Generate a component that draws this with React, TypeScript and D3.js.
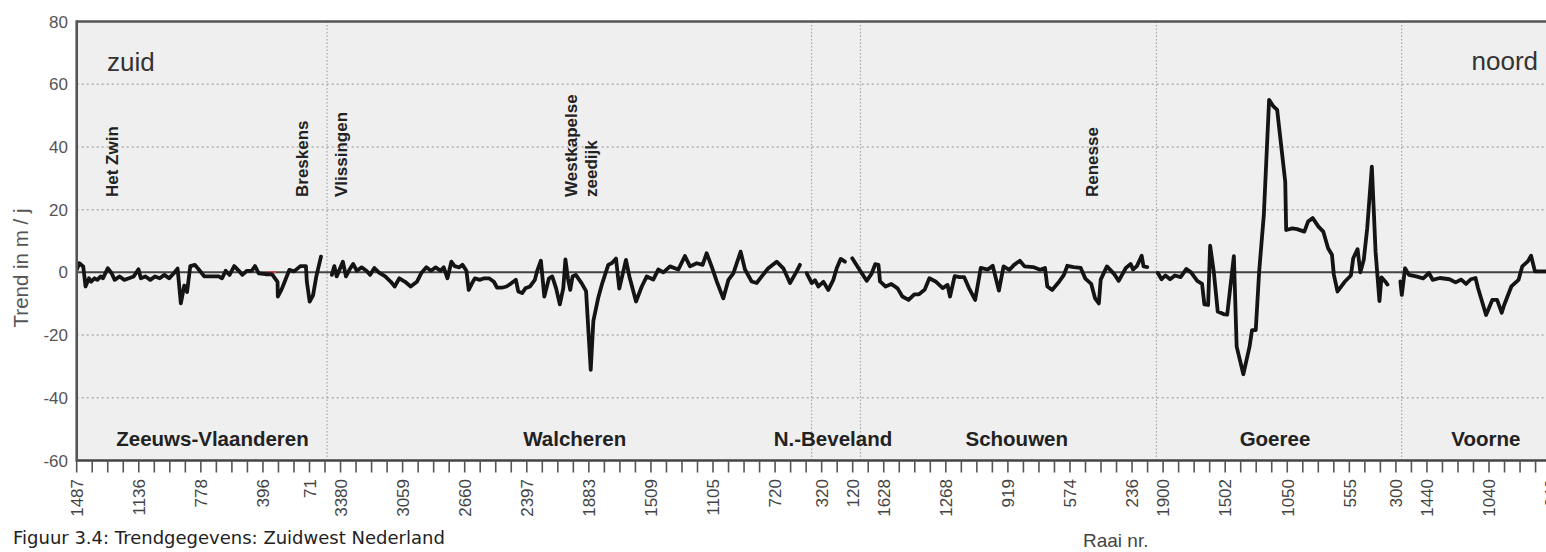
import React from 'react';
import * as d3 from 'd3';

// ---------- data ----------
const yTicks = [-60, -40, -20, 0, 20, 40, 60, 80];
const yGrid = [-40, -20, 20, 40, 60];
const tickCount = 96; // raai ticks 0..95
const raaiTickPos = [0, 4, 8, 12, 15, 17, 21, 25, 29, 33, 37, 41, 45, 48, 50, 52, 56, 60, 64, 68, 70, 74, 78, 82, 85, 87, 91, 95];
const raaiTickLabels = ['1487', '1136', '778', '396', '71', '3380', '3059', '2660', '2397', '1883', '1509', '1105', '720', '320', '120', '1628', '1268', '919', '574', '236', '1900', '1502', '1050', '555', '300', '1440', '1040', '640'];
const sectionBounds = [16.13, 47.35, 50.5, 69.57, 85.37];
const regionNames = ['Zeeuws-Vlaanderen', 'Walcheren', 'N.-Beveland', 'Schouwen', 'Goeree', 'Voorne'];
const regionCenters = [8.75, 32.09, 48.73, 60.57, 77.21, 90.8];
const placeNames = ['Het Zwin', 'Breskens', 'Vlissingen', 'Westkapelse', 'zeedijk', 'Renesse'];
const placePos = [2.66, 14.9, 17.42, 32.24, 33.53, 65.81];

// [raai position (tick units), trend m/j]
const zeeuwsVlaanderen: [number, number][] = [
  [0, 0.8], [0.17, 2.9], [0.42, 1.9], [0.57, -4.5], [0.79, -1.9], [0.93, -3], [1.15, -1.9], [1.33, -2.4],
  [1.55, -1.3], [1.69, -1.9], [2.0, 1.3], [2.24, -0.2], [2.45, -2.4], [2.76, -1.3], [3.07, -2.4], [3.37, -1.9],
  [3.67, -1.3], [3.98, 1.0], [4.13, -1.9], [4.43, -1.3], [4.74, -2.4], [5.04, -1.3], [5.35, -1.9], [5.65, -0.8],
  [5.95, -1.9], [6.26, -0.3], [6.5, 1.2], [6.71, -9.9], [6.93, -4.2], [7.11, -6.3], [7.32, 2], [7.62, 2.4],
  [7.93, 0.5], [8.23, -1.3], [8.54, -1.3], [8.84, -1.3], [9.15, -1.3], [9.36, -1.9], [9.6, 0.5], [9.85, -0.8],
  [10.15, 2], [10.45, 0.5], [10.67, -0.8], [10.97, 0.5], [11.28, 0.5], [11.49, 2], [11.73, -0.3], [12.18, -0.6],
  [12.58, -0.6], [12.94, -3], [12.96, -7.7], [13.19, -5.6], [13.4, -3], [13.7, 0.8], [14.01, 0.3], [14.41, 2],
  [14.77, 2], [14.83, -3], [15.01, -9.3], [15.23, -7.3], [15.44, -1.3], [15.74, 5],
];
const walcheren: [number, number][] = [
  [16.44, -0.8], [16.6, 2], [16.75, -1.3], [17.15, 3.4], [17.35, -1.3], [17.57, 0.8], [17.81, 2.7], [18.05, 0.5],
  [18.36, 1.6], [18.67, 0.5], [18.9, -0.8], [19.18, 1.4], [19.48, -0.1], [19.88, -1.3], [20.24, -3], [20.49, -4.5],
  [20.79, -1.9], [21.16, -3], [21.52, -4.5], [21.92, -3], [22.22, -0.1], [22.53, 1.6], [22.83, 0.5], [23.13, 1.6],
  [23.44, 0.5], [23.65, 1.6], [23.89, -1.9], [24.14, 3.4], [24.35, 2], [24.65, 1.6], [24.86, 2.4], [25.11, 0.5],
  [25.26, -5.6], [25.47, -3.5], [25.66, -1.9], [25.96, -2.4], [26.26, -1.9], [26.57, -1.9], [26.88, -3], [27.09, -4.9],
  [27.39, -4.9], [27.69, -4.5], [28.0, -3.5], [28.3, -2.4], [28.45, -6.1], [28.7, -6.6], [28.91, -5.1], [29.21, -4.5],
  [29.52, -2.4], [29.67, 0.5], [29.91, 3.7], [30.13, -7.7], [30.43, -1.9], [30.64, -1.3], [30.89, -5.1], [31.13, -10.2],
  [31.35, -5.1], [31.49, 4.1], [31.65, -1.9], [31.8, -5.6], [31.95, -1.3], [32.16, -0.8], [32.54, -3.5], [32.82, -6],
  [33.12, -31.1], [33.29, -15.5], [33.61, -8], [33.83, -4], [34.25, 2.4], [34.49, 3], [34.75, 4.4], [34.96, -5.2],
  [35.39, 4], [35.61, -1.3], [36.04, -9.3], [36.41, -4.5], [36.73, -1.3], [37.15, -2.3], [37.47, 0.9], [37.8, 0],
  [38.23, 1.9], [38.76, 0.9], [39.19, 5.2], [39.52, 1.9], [39.95, 2.9], [40.33, 2.4], [40.59, 6.1], [40.91, 1.9],
  [41.24, -2.9], [41.66, -8.3], [41.99, -2.4], [42.31, -0.3], [42.78, 6.6], [43.06, 0.9], [43.49, -2.9], [43.81, -3.4],
  [44.14, -1.3], [44.56, 1.3], [45.1, 3.4], [45.53, 1.3], [45.96, -3.4], [46.39, 0.3], [46.6, 2.4],
];
const nBeveland: [number, number][] = [
  [47.04, -0.3], [47.36, -3.4], [47.57, -2.5], [47.79, -4.5], [48.11, -3], [48.43, -5.6], [48.75, -2.4],
  [48.97, 1.3], [49.23, 4.3], [49.5, 3.4],
];
const schouwen: [number, number][] = [
  [49.97, 4.5], [50.44, 0.8], [50.9, -2.7], [51.21, -0.5], [51.45, 2.6], [51.66, 2.4], [51.76, -2.9], [52.12, -4.5],
  [52.49, -3.7], [52.89, -5.1], [53.2, -7.7], [53.6, -8.8], [53.97, -7], [54.27, -7], [54.64, -5.5], [54.94, -1.9],
  [55.34, -2.9], [55.8, -5], [56.11, -4], [56.27, -7.7], [56.57, -1.2], [56.88, -1.5], [57.18, -1.5], [57.49, -5],
  [57.89, -8.8], [58.25, 1.4], [58.71, 0.9], [59.02, 2.1], [59.42, -5.8], [59.72, 1.9], [60.09, 0.8], [60.4, 2.4],
  [60.77, 3.7], [61.07, 1.9], [61.62, 1.7], [62.08, 0.8], [62.39, 1.4], [62.54, -4.5], [62.85, -5.6], [63.31, -2.9],
  [63.61, -0.8], [63.83, 2.1], [64.23, 1.7], [64.69, 1.4], [64.99, -2], [65.37, -3.7], [65.61, -8.2], [65.86, -9.9],
  [65.98, -2.3], [66.38, 1.9], [66.84, -0.5], [67.14, -2.7], [67.6, 1.4], [67.91, 2.7], [68.06, 0.9], [68.31, 2],
  [68.62, 5.3], [68.74, 1.9], [68.98, 1.7],
];
const goeree: [number, number][] = [
  [69.66, -0.2], [69.9, -2.2], [70.15, -1], [70.45, -2.2], [70.76, -1], [71.13, -1.5], [71.5, 1.1], [71.8, 0],
  [72.2, -2.7], [72.51, -3.7], [72.66, -10.2], [72.9, -10.4], [73.03, 8.5], [73.27, 0], [73.52, -12.5], [73.89, -13.3],
  [74.13, -13.5], [74.56, 5.2], [74.74, -23.7], [75.17, -32.5], [75.57, -23.7], [75.73, -18.4], [75.97, -18.4], [76.19, 0.3],
  [76.49, 18.3], [76.83, 55], [77.11, 52.9], [77.35, 51.8], [77.87, 28.9], [77.93, 13.5], [78.33, 14], [78.63, 13.8],
  [79.1, 13], [79.34, 16.2], [79.64, 17.3], [80.01, 14.6], [80.32, 13], [80.63, 7.7], [80.88, 5.6], [81.0, -0.7],
  [81.24, -6.1], [81.7, -3], [82.1, -1], [82.25, 4.5], [82.53, 7.4], [82.71, 0], [82.93, 4], [83.15, 14],
  [83.45, 33.7], [83.69, 6.6], [83.94, -9.2], [84.07, -1.6], [84.31, -2.9], [84.46, -3.9],
];
const voorne: [number, number][] = [
  [85.29, -2.9], [85.38, -7.2], [85.59, 1.3], [85.84, -0.8], [86.3, -1.3], [86.76, -1.9], [87.13, -0.2], [87.37, -2.4],
  [87.84, -1.8], [88.45, -2.2], [88.85, -3.2], [89.21, -2.3], [89.52, -3.7], [89.83, -2.2], [90.13, -1.8], [90.29, -5],
  [90.81, -13.6], [91.21, -8.8], [91.52, -8.8], [91.82, -12.9], [91.97, -10.5], [92.44, -4.5], [92.9, -2.4], [93.14, 1.9],
  [93.5, 3.5], [93.71, 5.3], [93.96, 0.3], [94.67, 0.3], [95.31, 0.3],
];
const redSeries: [number, number][] = [[12.35, 0], [12.85, 0]];

const segments = [zeeuwsVlaanderen, walcheren, nBeveland, schouwen, goeree, voorne];

// ---------- layout ----------
const W = 1546;
const H = 552;
const left = 76.7;
const tickStep = 15.52;
const top = 21.5;
const bottom = 460.5;
const font = '"Liberation Sans", Arial, Helvetica, sans-serif';

export default function App() {
  const x = d3.scaleLinear().domain([0, tickCount]).range([left, left + tickCount * tickStep]);
  const y = d3.scaleLinear().domain([-60, 80]).range([bottom, top]);
  const line = d3.line<[number, number]>().x((d) => x(d[0])).y((d) => y(d[1]));
  const right = x(tickCount);
  const ticks = d3.range(tickCount);

  return (
    <svg width={W} height={H} style={{ position: 'absolute', left: 0, top: 0, display: 'block', background: '#fff' }}>
      <defs>
        <clipPath id="plotClip">
          <rect x={left} y={top} width={right - left} height={bottom - top} />
        </clipPath>
      </defs>
      <rect x={left} y={top} width={right - left} height={bottom - top} fill="#efefef" />
      {yGrid.map((v) => (
        <line key={'g' + v} x1={left} x2={right} y1={y(v)} y2={y(v)} stroke="#b0b0b0" strokeWidth={1.5} strokeDasharray="2,3" />
      ))}
      {sectionBounds.map((b, i) => (
        <line key={'s' + i} x1={x(b)} x2={x(b)} y1={top} y2={bottom} stroke="#a8a8a8" strokeWidth={1.2} strokeDasharray="1.5,2" />
      ))}
      <line x1={left} x2={right} y1={y(0)} y2={y(0)} stroke="#444" strokeWidth={2} />
      <g clipPath="url(#plotClip)">
        <path d={line(redSeries) || ''} fill="none" stroke="#e04040" strokeWidth={2} />
        {segments.map((s, i) => (
          <path key={'l' + i} d={line(s) || ''} fill="none" stroke="#141414" strokeWidth={3.8} strokeLinejoin="round" strokeLinecap="round" />
        ))}
      </g>
      {/* frame */}
      <line x1={left} x2={right} y1={top} y2={top} stroke="#555" strokeWidth={2.6} />
      <line x1={left} x2={right} y1={bottom} y2={bottom} stroke="#444" strokeWidth={2.6} />
      <line x1={left} x2={left} y1={top - 1.3} y2={bottom + 1.3} stroke="#555" strokeWidth={2.6} />
      {/* x ticks */}
      {ticks.map((t) => (
        <line key={'t' + t} x1={x(t)} x2={x(t)} y1={bottom} y2={bottom + 12} stroke="#555" strokeWidth={1.6} />
      ))}
      {raaiTickPos.map((p, i) => (
        <text key={'xl' + i} transform={`translate(${x(p) + 6.3},479) rotate(-90)`} textAnchor="end" fontFamily={font} fontSize={17} fill="#444">
          {raaiTickLabels[i]}
        </text>
      ))}
      {/* y ticks */}
      {yTicks.map((v) => (
        <text key={'yl' + v} x={68} y={y(v)} dy="0.36em" textAnchor="end" fontFamily={font} fontSize={17} fill="#555">
          {v}
        </text>
      ))}
      <text transform={`translate(28,268) rotate(-90)`} textAnchor="middle" fontFamily={font} fontSize={20.5} fill="#555">
        Trend in m / j
      </text>
      {/* region names */}
      {regionNames.map((n, i) => (
        <text key={'r' + i} x={x(regionCenters[i])} y={446} textAnchor="middle" fontFamily={font} fontWeight="bold" fontSize={20.5} fill="#222">
          {n}
        </text>
      ))}
      {/* place names */}
      {placeNames.map((n, i) => (
        <text key={'p' + i} transform={`translate(${x(placePos[i])},197) rotate(-90)`} textAnchor="start" fontFamily={font} fontWeight="bold" fontSize={17} fill="#222">
          {n}
        </text>
      ))}
      <text x={107} y={71} fontFamily={font} fontSize={26} fill="#333">zuid</text>
      <text x={1538} y={70} textAnchor="end" fontFamily={font} fontSize={26} fill="#333">noord</text>
      <text x={1083} y={547} fontFamily={font} fontSize={19} fill="#444">Raai nr.</text>
      <text x={13} y={544} fontFamily='"DejaVu Sans", Verdana, sans-serif' fontSize={18} fill="#222">
        Figuur 3.4: Trendgegevens: Zuidwest Nederland
      </text>
    </svg>
  );
}
